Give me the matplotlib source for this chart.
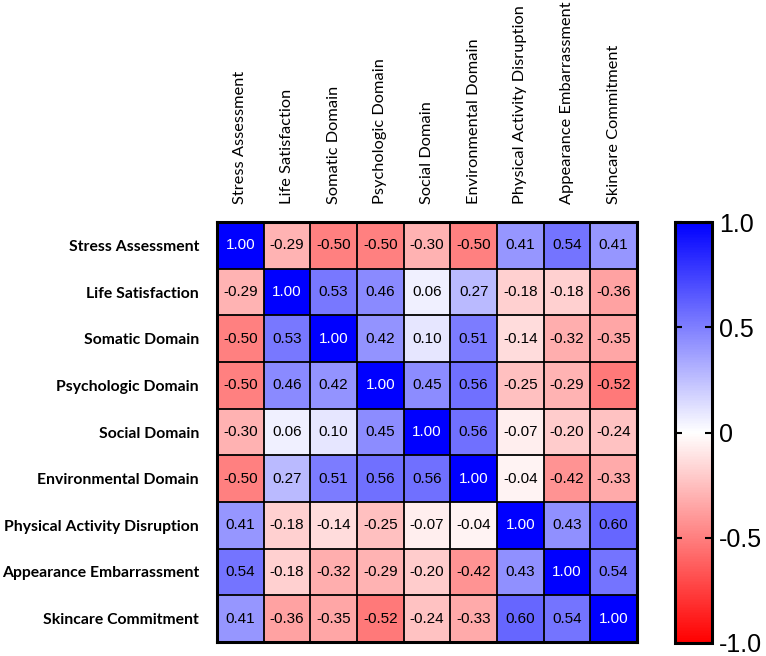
import matplotlib
matplotlib.use("Agg")
import matplotlib.pyplot as plt
import numpy as np
from matplotlib.colors import LinearSegmentedColormap

labels = ["Stress Assessment", "Life Satisfaction", "Somatic Domain",
          "Psychologic Domain", "Social Domain", "Environmental Domain",
          "Physical Activity Disruption", "Appearance Embarrassment",
          "Skincare Commitment"]

corr = np.array([
    [1.00, -0.29, -0.50, -0.50, -0.30, -0.50, 0.41, 0.54, 0.41],
    [-0.29, 1.00, 0.53, 0.46, 0.06, 0.27, -0.18, -0.18, -0.36],
    [-0.50, 0.53, 1.00, 0.42, 0.10, 0.51, -0.14, -0.32, -0.35],
    [-0.50, 0.46, 0.42, 1.00, 0.45, 0.56, -0.25, -0.29, -0.52],
    [-0.30, 0.06, 0.10, 0.45, 1.00, 0.56, -0.07, -0.20, -0.24],
    [-0.50, 0.27, 0.51, 0.56, 0.56, 1.00, -0.04, -0.42, -0.33],
    [0.41, -0.18, -0.14, -0.25, -0.07, -0.04, 1.00, 0.43, 0.60],
    [0.54, -0.18, -0.32, -0.29, -0.20, -0.42, 0.43, 1.00, 0.54],
    [0.41, -0.36, -0.35, -0.52, -0.24, -0.33, 0.60, 0.54, 1.00],
])

cbar_ticks = [-1.0, -0.5, 0, 0.5, 1.0]
cbar_labels = ["-1.0", "-0.5", "0", "0.5", "1.0"]

cmap = LinearSegmentedColormap.from_list("rwb", ["#ff0000", "#ffffff", "#0000ff"])

fig = plt.figure(figsize=(7.66, 6.56), dpi=100)
ax = fig.add_axes([217 / 766, 1 - 642 / 656, 420 / 766, 420 / 656])
cax = fig.add_axes([675 / 766, 1 - 643 / 656, 37 / 766, 421 / 656])

im = ax.imshow(corr, cmap=cmap, vmin=-1, vmax=1, aspect="auto")

n = len(labels)
for i in range(n):
    for j in range(n):
        v = corr[i, j]
        ax.text(j, i, f"{v:.2f}", ha="center", va="center", fontsize=11,
                family="Liberation Sans", color="white" if v > 0.9 else "black")

# grid lines between cells
ax.set_xticks(np.arange(-0.5, n, 1), minor=True)
ax.set_yticks(np.arange(-0.5, n, 1), minor=True)
ax.grid(which="minor", color="black", linewidth=1.3)
ax.tick_params(which="minor", length=0)
for s in ax.spines.values():
    s.set_linewidth(2.2)

ax.xaxis.tick_top()
ax.set_xticks(np.arange(n))
ax.set_yticks(np.arange(n))
ax.set_xticklabels(labels, rotation=90, fontsize=11.8, family="Lato")
ax.set_yticklabels(labels, fontsize=11.3, family="Lato", fontweight="bold")
ax.tick_params(which="major", length=0)
ax.tick_params(axis="x", pad=13)
ax.tick_params(axis="y", pad=13)

cb = fig.colorbar(im, cax=cax)
cb.set_ticks(cbar_ticks)
cb.set_ticklabels(cbar_labels)
cb.outline.set_linewidth(2.2)
cax.tick_params(direction="in", left=True, right=True, length=5, width=1.5,
                labelsize=18, pad=5)
for t in cax.get_yticklabels():
    t.set_family("Liberation Sans")

fig.savefig("out.png", dpi=100)
